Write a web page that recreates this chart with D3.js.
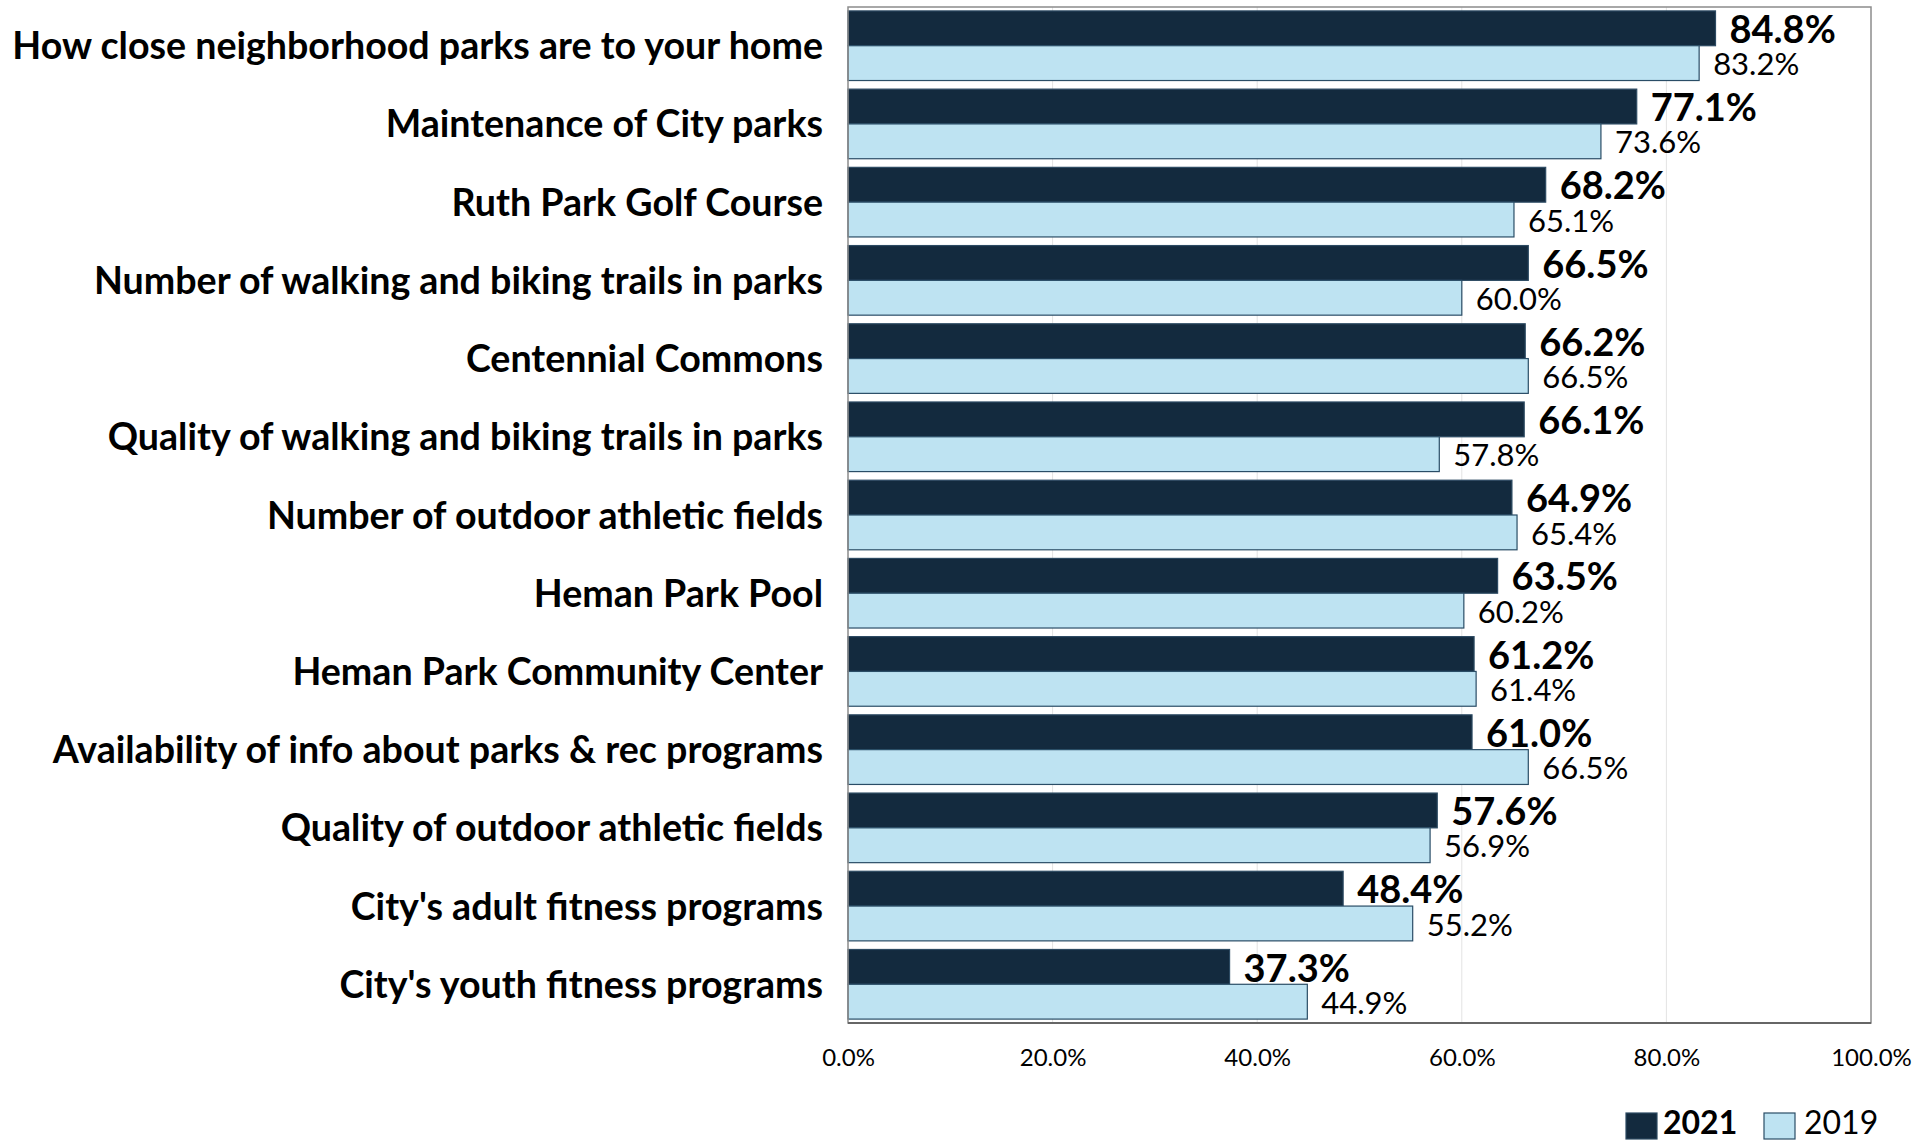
<!DOCTYPE html>
<html><head><meta charset="utf-8">
<script src="https://cdn.jsdelivr.net/npm/d3@7"></script>
<style>body{margin:0;background:#fff;} svg{display:block;font-family:Lato,"Open Sans",sans-serif;}</style>
</head><body>
<svg id="chart" width="1932" height="1142"></svg>
<script>
const categories = [
  "How close neighborhood parks are to your home",
  "Maintenance of City parks",
  "Ruth Park Golf Course",
  "Number of walking and biking trails in parks",
  "Centennial Commons",
  "Quality of walking and biking trails in parks",
  "Number of outdoor athletic fields",
  "Heman Park Pool",
  "Heman Park Community Center",
  "Availability of info about parks & rec programs",
  "Quality of outdoor athletic fields",
  "City's adult fitness programs",
  "City's youth fitness programs"
];
const values2021 = [84.8, 77.1, 68.2, 66.5, 66.2, 66.1, 64.9, 63.5, 61.2, 61.0, 57.6, 48.4, 37.3];
const values2019 = [83.2, 73.6, 65.1, 60.0, 66.5, 57.8, 65.4, 60.2, 61.4, 66.5, 56.9, 55.2, 44.9];
const seriesNames = ["2021", "2019"];
const xTicks = [0, 20, 40, 60, 80, 100];

const colors = {"2021": "#132a3e", "2019": "#bee3f2"};
const strokes = {"2021": "#2c4a62", "2019": "#2a4d66"};

const svg = d3.select("#chart");
const m = {left: 848, right: 1871, top: 7, bottom: 1023};

const x = d3.scaleLinear().domain([0, 100]).range([m.left, m.right]);
const y = d3.scaleBand().domain(categories).range([m.top, m.bottom]).paddingInner(0.11).paddingOuter(0.05);
const ySub = d3.scaleBand().domain(seriesNames).range([0, y.bandwidth()]);

// gridlines
svg.append("g").selectAll("line").data(xTicks.filter(t => t > 0 && t < 100)).join("line")
  .attr("x1", d => x(d)).attr("x2", d => x(d))
  .attr("y1", m.top).attr("y2", m.bottom)
  .attr("stroke", "#e3e3e3").attr("stroke-width", 1);

const rows = categories.map((c, i) => ({c, v: {"2021": values2021[i], "2019": values2019[i]}}));

const g = svg.append("g");
seriesNames.forEach(s => {
  g.selectAll("rect.b" + s).data(rows).join("rect")
    .attr("x", x(0))
    .attr("y", d => y(d.c) + ySub(s))
    .attr("width", d => x(d.v[s]) - x(0))
    .attr("height", ySub.bandwidth())
    .attr("fill", colors[s])
    .attr("stroke", strokes[s]).attr("stroke-width", 1.2);
});

// value labels
seriesNames.forEach(s => {
  g.selectAll("text.v" + s).data(rows).join("text")
    .attr("x", d => x(d.v[s]) + 14)
    .attr("y", d => y(d.c) + ySub(s) + ySub.bandwidth() / 2 + 1)
    .attr("dy", "0.36em")
    .attr("font-size", s === "2021" ? 38 : 31)
    .attr("font-weight", s === "2021" ? 700 : 400)
    .attr("fill", "#000")
    .text(d => d.v[s].toFixed(1) + "%");
});

// frame
svg.append("rect").attr("x", m.left).attr("y", m.top)
  .attr("width", m.right - m.left).attr("height", m.bottom - m.top)
  .attr("fill", "none").attr("stroke", "#8c8c8c").attr("stroke-width", 1.5);
svg.append("line").attr("x1", m.left).attr("x2", m.right).attr("y1", m.bottom).attr("y2", m.bottom)
  .attr("stroke", "#666").attr("stroke-width", 2);

// x axis tick labels
const xAxis = d3.axisBottom(x).tickValues(xTicks).tickSize(0).tickPadding(0)
  .tickFormat(d => d.toFixed(1) + "%");
const ax = svg.append("g").attr("transform", `translate(0,${m.bottom + 34})`).call(xAxis);
ax.select(".domain").remove();
ax.selectAll("text").attr("font-size", 24).attr("font-family", "Lato").attr("fill", "#000").attr("dy", "0.36em").attr("y", 0);

// y axis category labels
const yAxis = d3.axisLeft(y).tickSize(0).tickPadding(0);
const ay = svg.append("g").attr("transform", `translate(${m.left - 25},0)`).call(yAxis);
ay.select(".domain").remove();
ay.selectAll("text").attr("font-size", 30).attr("font-weight", 700).attr("font-family", "Lato").attr("fill", "#000").attr("dy", "0.36em").attr("x", 0);
// fit the longest label width to the reference
let maxW = 0;
ay.selectAll("text").each(function(){ maxW = Math.max(maxW, this.getComputedTextLength()); });
const fs = 30 * 811 / maxW;
ay.selectAll("text").attr("font-size", fs);

// legend
const lg = svg.append("g").attr("transform", "translate(1626,1108)");
const legendItems = [{s: "2021", x: 0, tx: 37, w: 700}, {s: "2019", x: 138, tx: 178, w: 400}];
legendItems.forEach(it => {
  lg.append("rect").attr("x", it.x).attr("y", 5).attr("width", 31).attr("height", 26)
    .attr("fill", colors[it.s]).attr("stroke", strokes[it.s]).attr("stroke-width", 1.2);
  lg.append("text").attr("x", it.tx).attr("y", 14).attr("dy", "0.36em")
    .attr("font-size", 32).attr("font-weight", it.w).attr("fill", "#000").text(it.s);
});
</script>
</body></html>
